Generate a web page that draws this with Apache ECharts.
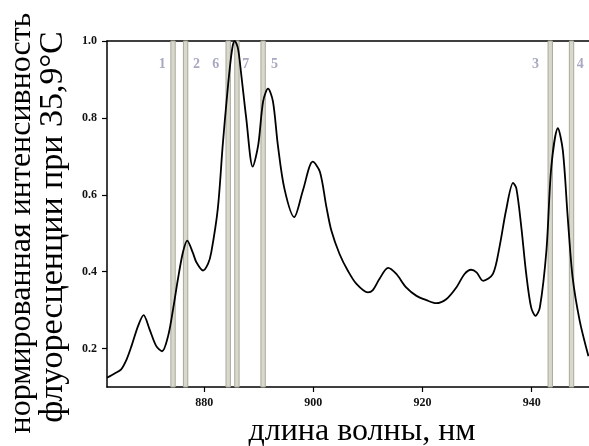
<!DOCTYPE html>
<html>
<head>
<meta charset="utf-8">
<script src="https://cdn.jsdelivr.net/npm/echarts@6/dist/echarts.min.js"></script>
<style>
  html, body { margin: 0; padding: 0; background: #fff; }
  #chart { width: 589px; height: 446px; }
</style>
</head>
<body>
<div id="chart"></div>
<script>
// спектр флуоресценции, значения
const wavelength = [
  862.2, 863.6, 864.8, 865.8, 866.7, 867.9, 868.9, 870.0, 871.2, 872.3,
  873.4, 874.3, 875.2, 876.1, 876.9, 877.9, 878.6, 879.8, 880.7, 881.3,
  882.5, 883.4, 884.1, 884.7, 885.2, 885.6, 886.2, 886.8, 887.7, 888.9,
  889.9, 890.8, 891.7, 892.6, 893.5, 894.7, 896.5, 898.1, 899.9, 901.2,
  902.4, 903.3, 904.8, 906.3, 907.9, 910.0, 910.9, 912.1, 913.7, 915.2,
  917.0, 918.9, 920.7, 922.5, 924.4, 926.2, 927.7, 928.9, 929.9, 931.1,
  932.9, 934.1, 935.3, 936.6, 937.2, 938.1, 939.0, 939.9, 940.7, 941.5,
  942.7, 943.6, 944.8, 945.7, 946.6, 947.5, 948.8, 950.4
];
const intensity = [
  0.124, 0.135, 0.146, 0.172, 0.207, 0.259, 0.287, 0.250, 0.207, 0.193,
  0.233, 0.302, 0.381, 0.450, 0.481, 0.450, 0.424, 0.403, 0.420, 0.450,
  0.564, 0.729, 0.843, 0.930, 0.985, 1.000, 0.980, 0.912, 0.800, 0.673,
  0.729, 0.843, 0.876, 0.843, 0.729, 0.616, 0.542, 0.612, 0.686, 0.660,
  0.568, 0.507, 0.446, 0.403, 0.368, 0.346, 0.352, 0.381, 0.410, 0.394,
  0.359, 0.337, 0.326, 0.318, 0.329, 0.359, 0.394, 0.405, 0.398, 0.376,
  0.394, 0.464, 0.559, 0.631, 0.616, 0.516, 0.394, 0.307, 0.285, 0.307,
  0.455, 0.673, 0.773, 0.716, 0.542, 0.385, 0.272, 0.180
];

// полосы (центры, нм) и их номера
const bandCenters = [874.3, 876.6, 884.4, 886.0, 890.8, 943.4, 947.3];
const bandNames   = ['1', '2', '6', '7', '5', '3', '4'];
const bandLabelX  = [872.3, 878.6, 882.1, 887.6, 892.9, 940.7, 948.9];
const bandLabelY  = 0.94;

const xTicks = [880, 900, 920, 940];
const yTicks = [0.2, 0.4, 0.6, 0.8, 1.0];

const chart = echarts.init(document.getElementById('chart'));

const serif = '"Liberation Serif", "DejaVu Serif", serif';
const bandHalf = 0.4;

const lineData = wavelength.map((w, i) => [w, intensity[i]]);
const bandAreas = bandCenters.map(c => [{ xAxis: c - bandHalf }, { xAxis: c + bandHalf }]);
const labelData = bandNames.map((n, i) => ({ name: n, value: [bandLabelX[i], bandLabelY] }));

const option = {
  animation: false,
  grid: { left: 107, top: 41, width: 482, height: 346 },
  xAxis: [
    {
      type: 'value',
      min: 862.2,
      max: 950.5,
      axisLine: { show: true, lineStyle: { color: '#000', width: 1.5 } },
      axisTick: { show: true, customValues: xTicks, length: 5, lineStyle: { color: '#000', width: 1.2 } },
      axisLabel: {
        customValues: xTicks,
        margin: 10,
        color: '#111',
        fontFamily: serif,
        fontWeight: 'bold',
        fontSize: 12
      },
      splitLine: { show: false }
    },
    {
      type: 'value',
      position: 'top',
      min: 862.2,
      max: 950.5,
      axisLine: { show: true, onZero: false, lineStyle: { color: '#000', width: 1.5 } },
      axisTick: { show: false },
      axisLabel: { show: false },
      splitLine: { show: false }
    }
  ],
  yAxis: {
    type: 'value',
    min: 0.1,
    max: 1.0,
    axisLine: { show: true, lineStyle: { color: '#000', width: 1.5 } },
    axisTick: { show: true, customValues: yTicks, length: 5, lineStyle: { color: '#000', width: 1.2 } },
    axisLabel: {
      customValues: yTicks,
      margin: 10,
      color: '#111',
      fontFamily: serif,
      fontWeight: 'bold',
      fontSize: 12,
      formatter: v => v.toFixed(1)
    },
    splitLine: { show: false }
  },
  series: [
    {
      type: 'line',
      data: lineData,
      smooth: 0.3,
      symbol: 'none',
      lineStyle: { color: '#000', width: 1.8 },
      z: 3,
      markArea: {
        silent: true,
        itemStyle: { color: '#d8d8cc', borderColor: '#a9a99a', borderWidth: 1 },
        data: bandAreas
      }
    },
    {
      type: 'scatter',
      data: labelData,
      symbolSize: 0,
      silent: true,
      label: {
        show: true,
        position: 'inside',
        formatter: p => p.name,
        color: '#9292b2',
        fontFamily: serif,
        fontWeight: 'bold',
        fontSize: 14
      }
    }
  ],
  graphic: [
    {
      type: 'text',
      x: 362, y: 432,
      style: {
        text: 'длина волны, нм',
        font: '32px ' + serif,
        fill: '#000',
        align: 'center',
        verticalAlign: 'middle'
      }
    },
    {
      type: 'text',
      x: 22, y: 223,
      rotation: Math.PI / 2,
      style: {
        text: 'нормированная интенсивность',
        font: '32px ' + serif,
        fill: '#000',
        align: 'center',
        verticalAlign: 'middle'
      }
    },
    {
      type: 'text',
      x: 53, y: 227,
      rotation: Math.PI / 2,
      style: {
        text: 'флуоресценции при 35,9°С',
        font: '34px ' + serif,
        fill: '#000',
        align: 'center',
        verticalAlign: 'middle'
      }
    }
  ]
};

chart.setOption(option);
</script>
</body>
</html>
